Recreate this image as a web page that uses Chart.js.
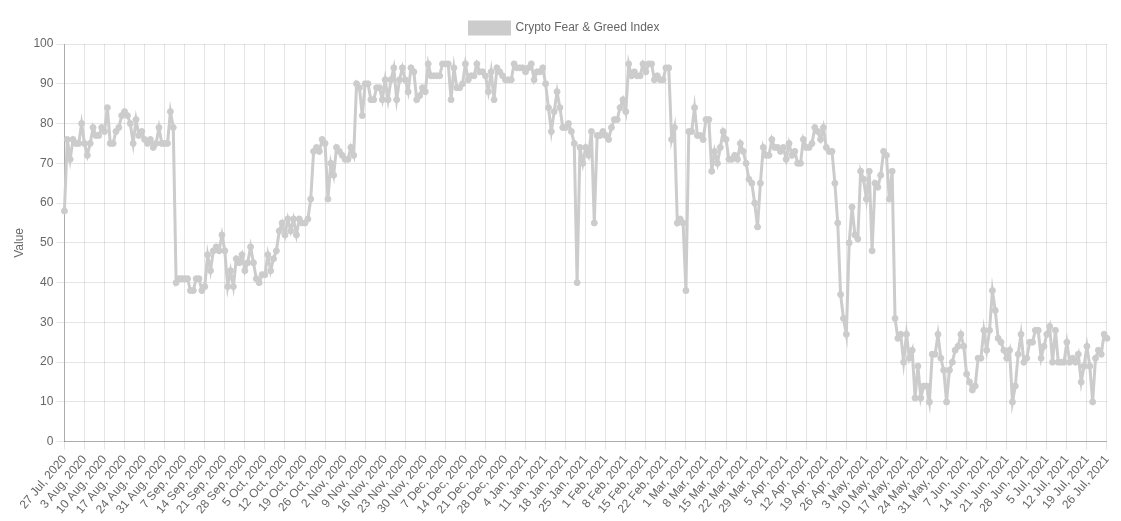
<!DOCTYPE html>
<html>
<head>
<meta charset="utf-8">
<script src="https://cdn.jsdelivr.net/npm/chart.js@4/dist/chart.umd.min.js"></script>
<style>
  html, body { margin: 0; padding: 0; background: #fff; }
  #wrap { width: 1121px; height: 521px; }
</style>
</head>
<body>
<div id="wrap"><canvas id="c"></canvas></div>
<script>
// Daily Crypto Fear & Greed Index values, 27 Jul 2020 .. 26 Jul 2021
const startDate = "2020-07-27";
const dayCount = 365;
const seriesName = "Crypto Fear & Greed Index";
const yTitle = "Value";
const tickEvery = 7;
const monthNames = ["Jan","Feb","Mar","Apr","May","Jun","Jul","Aug","Sep","Oct","Nov","Dec"];

const fearGreed = [
  58,76,71,76,75,75,80,75,72,75,
  79,77,77,79,78,84,75,75,78,79,
  82,83,82,80,75,81,77,78,76,75,
  76,74,75,79,75,75,75,83,79,40,
  41,41,41,41,38,38,41,41,38,39,
  47,43,48,49,48,52,48,39,43,39,
  46,45,47,43,45,49,45,41,40,42,
  42,47,43,46,48,53,55,52,56,53,
  56,52,56,55,55,56,61,73,74,73,
  76,75,61,70,67,74,73,72,71,71,
  74,72,90,89,82,90,90,86,86,89,
  89,86,91,86,91,94,86,91,94,91,
  88,94,93,86,87,89,88,95,92,92,
  92,92,95,95,95,86,94,89,89,90,
  95,91,92,92,95,93,93,92,88,93,
  86,94,93,92,91,91,91,95,94,94,
  94,93,94,95,91,93,93,94,90,84,
  78,83,88,84,79,79,80,78,75,40,
  74,70,74,72,78,55,77,77,78,77,
  76,79,81,81,84,86,83,95,92,93,
  92,92,95,93,95,95,91,92,91,91,
  94,94,76,79,55,56,55,38,78,78,
  84,77,77,76,81,81,68,73,70,74,
  78,76,71,71,72,71,75,73,70,66,
  65,60,54,65,74,72,72,76,74,74,
  73,74,71,75,72,73,70,70,76,74,
  74,75,79,78,76,79,74,73,73,65,
  55,37,31,27,50,59,52,51,68,66,
  61,68,48,65,64,67,73,72,61,68,
  31,26,27,20,27,21,23,11,19,11,
  14,14,10,22,22,27,21,18,10,18,
  20,23,24,27,24,17,15,13,14,21,
  21,28,23,28,38,33,26,25,23,21,
  23,10,14,22,27,20,21,25,25,28,
  28,21,24,27,29,20,28,20,20,20,
  25,20,21,20,22,15,19,24,19,10,
  21,23,22,27,26
];

// Daily category labels "27 Jul, 2020"
const dayLabels = [];
(function () {
  const d0 = new Date(startDate + "T00:00:00Z");
  for (let i = 0; i < dayCount; i++) {
    const d = new Date(d0.getTime() + i * 86400000);
    dayLabels.push(d.getUTCDate() + " " + monthNames[d.getUTCMonth()] + ", " + d.getUTCFullYear());
  }
})();

const lineColor = "rgb(204,204,204)";
const gridColor = "rgba(0,0,0,0.1)";
Chart.defaults.font.family = "'Helvetica Neue', Helvetica, Arial, 'Liberation Sans', sans-serif";
Chart.defaults.font.size = 12;
Chart.defaults.color = "#666";

function isWeekTick(ctx) {
  const v = ctx && ctx.tick ? ctx.tick.value : (ctx ? ctx.index : 0);
  return v % tickEvery === 0;
}

new Chart(document.getElementById("c"), {
  type: "line",
  data: {
    labels: dayLabels,
    datasets: [{
      label: seriesName,
      data: fearGreed,
      borderColor: lineColor,
      backgroundColor: lineColor,
      pointBackgroundColor: lineColor,
      pointBorderColor: lineColor,
      borderWidth: 3,
      pointRadius: 3,
      pointBorderWidth: 1,
      tension: 0,
      fill: false
    }]
  },
  options: {
    responsive: true,
    maintainAspectRatio: false,
    animation: false,
    layout: { padding: { top: 12, left: 8, right: 0, bottom: 1 } },
    plugins: {
      legend: {
        display: true,
        position: "top",
        labels: { boxWidth: 40, boxHeight: 12, color: "#666" }
      },
      tooltip: { enabled: false }
    },
    scales: {
      x: {
        type: "category",
        offset: false,
        grid: {
          color: function (ctx) { return isWeekTick(ctx) ? gridColor : "rgba(0,0,0,0)"; },
          drawTicks: true
        },
        border: { color: "rgba(0,0,0,0.25)" },
        ticks: {
          autoSkip: false,
          minRotation: 50,
          maxRotation: 50,
          color: "#666",
          callback: function (value, index) {
            return index % tickEvery === 0 ? this.getLabelForValue(value) : null;
          }
        }
      },
      y: {
        min: 0,
        max: 100,
        grid: { color: gridColor },
        border: { color: "rgba(0,0,0,0.25)" },
        ticks: { stepSize: 10, color: "#666" },
        title: { display: true, text: yTitle, color: "#666" }
      }
    }
  }
});
</script>
</body>
</html>
